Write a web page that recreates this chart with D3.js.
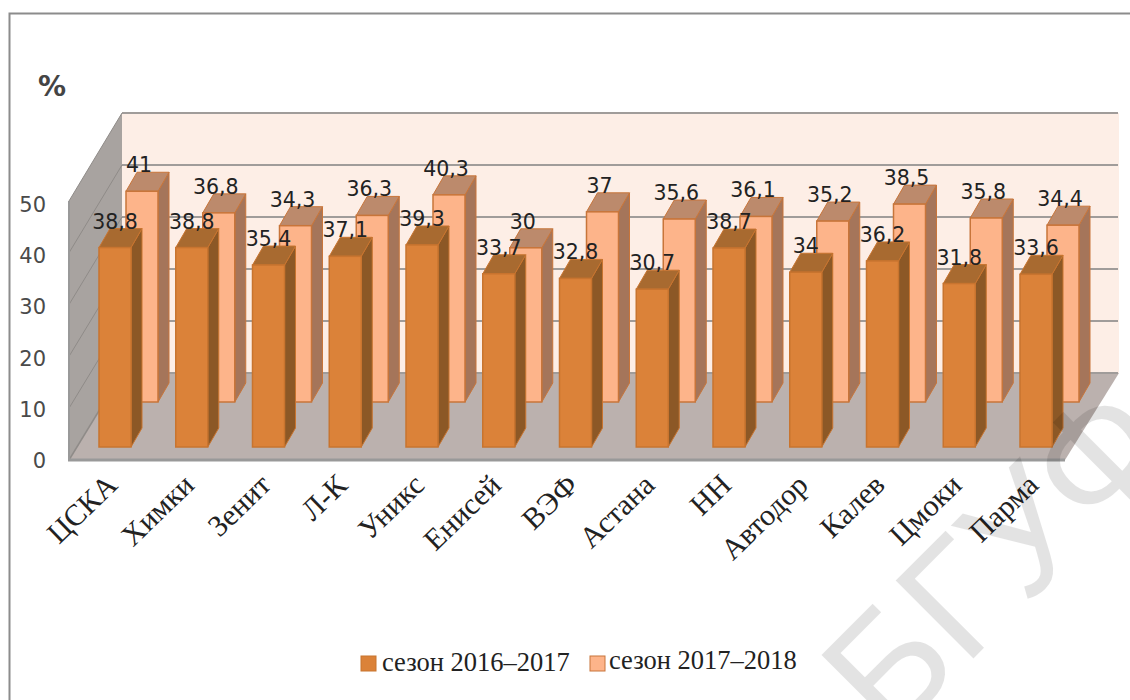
<!DOCTYPE html>
<html><head><meta charset="utf-8">
<script src="https://cdn.jsdelivr.net/npm/d3@7"></script>
<style>html,body{margin:0;padding:0;background:#fff}svg{display:block}</style></head>
<body><svg id="c" width="1130" height="700"></svg>
<script>
const categories=["ЦСКА","Химки","Зенит","Л-К","Уникс","Енисей","ВЭФ","Астана","НН","Автодор","Калев","Цмоки","Парма"];
const season1=[38.8,38.8,35.4,37.1,39.3,33.7,32.8,30.7,38.7,34,36.2,31.8,33.6];
const season2=[41,36.8,34.3,36.3,40.3,30,37,35.6,36.1,35.2,38.5,35.8,34.4];
const seriesNames=["сезон 2016–2017","сезон 2017–2018"];
const yTicks=[0,10,20,30,40,50];
const fmt=v=>String(v).replace(".",",");
const svg=d3.select("#c");
const ns="DejaVu Sans";
svg.append("path").attr("d","M9.5,700V13.5H1130").attr("fill","none").attr("stroke","#8c8c8c").attr("stroke-width",2);
const yFront=d3.scaleLinear().domain([0,50]).range([460,201]);
const yBack=d3.scaleLinear().domain([0,50]).range([373,113]);
const xL=69,xR=1065,dx=53;
svg.append("path").attr("d",`M${xL+dx},${yBack(0)}H${xR+dx+1}V${yBack(50)}H${xL+dx}Z`).attr("fill","#fdeee6");
svg.append("path").attr("d",`M${xL},${yFront(0)}V${yFront(50)}L${xL+dx},${yBack(50)}V${yBack(0)}Z`).attr("fill","#a8a3a0");
svg.append("path").attr("d",`M${xL},${yFront(0)}L${xL+dx},${yBack(0)}H${xR+dx+1}L${xR},${yFront(0)}Z`).attr("fill","#bbb1ae");
yTicks.forEach(t=>{
  svg.append("line").attr("x1",xL+dx).attr("x2",xR+dx).attr("y1",yBack(t)).attr("y2",yBack(t)).attr("stroke","#a09c9a").attr("stroke-width",2);
  svg.append("line").attr("x1",xL).attr("x2",xL+dx).attr("y1",yFront(t)).attr("y2",yBack(t)).attr("stroke","#8f8b88").attr("stroke-width",t===0?1.5:1);
});
svg.append("line").attr("x1",xL).attr("x2",xL).attr("y1",yFront(0)).attr("y2",yFront(50)).attr("stroke","#999").attr("stroke-width",2);
svg.append("line").attr("x1",xL-1).attr("x2",xR).attr("y1",yFront(0)).attr("y2",yFront(0)).attr("stroke","#999").attr("stroke-width",3);
svg.append("g").selectAll("text").data(yTicks).join("text")
 .attr("x",46).attr("y",d=>yFront(d)+8+3*d/50).attr("text-anchor","end")
 .attr("font-family",ns).attr("font-size",21).attr("fill","#4a4a4a").text(d=>d);
svg.append("text").attr("x",38).attr("y",96).attr("font-family",ns).attr("font-size",28).attr("font-weight","bold").attr("fill","#444").text("%");
const xIdx=d3.scaleLinear().domain([0,12]).range([99,1020]);
const bw=32,ddx=11,ddy=19;
function bars(vals,off,base,colors){
  const yb=d3.scaleLinear().domain([0,50]).range([base,base-257]);
  const g=svg.append("g");
  vals.forEach((v,i)=>{
    const x=xIdx(i)+off,t=yb(v);
    g.append("path").attr("d",`M${x+bw},${base}V${t}l${ddx},${-ddy}V${base-ddy}Z`).attr("fill",colors.side).attr("stroke",colors.line).attr("stroke-width",1);
    g.append("path").attr("d",`M${x},${t}h${bw}l${ddx},${-ddy}h${-bw}Z`).attr("fill",colors.top).attr("stroke",colors.line).attr("stroke-width",1);
    g.append("rect").attr("x",x).attr("y",t).attr("width",bw).attr("height",base-t).attr("fill",colors.front).attr("stroke",colors.line).attr("stroke-width",1.5);
  });
  return yb;
}
const yb2=bars(season2,27,402,{front:"#fdb48a",side:"#a5755a",top:"#bc8a6c",line:"#c8753a"});
const yb1=bars(season1,0,447,{front:"#db8239",side:"#8c5826",top:"#a86a30",line:"#c8742f"});
function labels(vals,off,yb){
  svg.append("g").selectAll("text").data(vals).join("text")
   .attr("x",(d,i)=>xIdx(i)+off).attr("y",d=>yb(d)-19).attr("text-anchor","middle")
   .attr("font-family",ns).attr("font-size",20.5).attr("fill","#222").text(fmt);
}
labels(season2,27+13,yb2);
labels(season1,16,yb1);
svg.append("g").selectAll("text").data(categories).join("text")
 .attr("transform",(d,i)=>`translate(${xIdx(i)+20},${487}) rotate(-44)`).attr("text-anchor","end")
 .attr("font-family","Liberation Serif").attr("font-size",30).attr("fill","#222").text(d=>d);
const legend=[[361,382,671,"#db8239","#c8742f"],[590,609,669,"#fdb48a","#c8753a"]];
legend.forEach((l,i)=>{
  svg.append("rect").attr("x",l[0]).attr("y",656).attr("width",15).attr("height",15).attr("fill",l[3]).attr("stroke",l[4]);
  svg.append("text").attr("x",l[1]).attr("y",l[2]).attr("font-family","Liberation Serif").attr("font-size",26.5).attr("fill","#222").text(seriesNames[i]);
});
svg.append("text").attr("transform","translate(890,742) rotate(-45)").attr("font-family","Liberation Sans").attr("font-size",160).attr("fill","#000").attr("fill-opacity",0.11).text("БГУФ");
</script></body></html>
